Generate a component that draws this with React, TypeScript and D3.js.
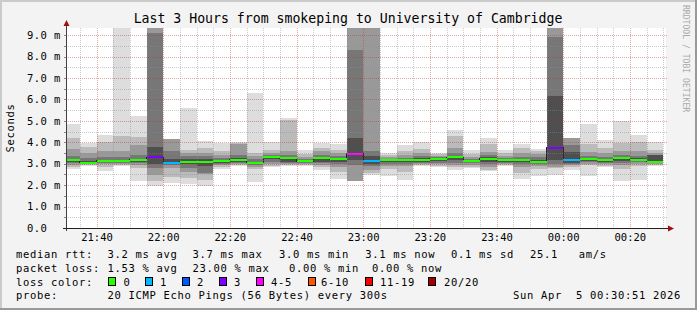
import React, { useEffect } from 'react';
import * as d3 from 'd3';

// ---------- data (ms) ----------
// one bar per 5-minute step, bar i covers minutes [5i, 5i+5] after 21:30
const medianMs = [3.18, 3.04, 3.14, 3.12, 3.18, 3.31, 3.04, 3.09, 3.09, 3.14, 3.18, 3.04,
  3.32, 3.26, 3.12, 3.26, 3.21, 3.46, 3.12, 3.15, 3.15, 3.18, 3.22, 3.30,
  3.12, 3.22, 3.15, 3.17, 3.10, 3.74, 3.19, 3.22, 3.18, 3.26, 3.18, 3.09];
const lossPings = [0, 0, 0, 0, 0, 3, 1, 0, 0, 0, 0, 0,
  0, 0, 0, 0, 0, 5, 1, 0, 0, 0, 0, 0,
  0, 0, 0, 0, 0, 3, 1, 0, 0, 0, 0, 0];
// smoke layers: outermost (light) to innermost (dark)
const l1Lo = [2.75, 2.90, 2.67, 2.90, 2.20, 1.97, 2.10, 2.05, 1.95, 2.75, 2.90, 2.16,
  2.83, 2.90, 2.90, 2.72, 2.29, 2.17, 2.47, 2.44, 2.25, 2.90, 2.83, 2.72,
  2.78, 2.64, 2.87, 2.29, 2.44, 2.49, 2.72, 2.44, 2.83, 2.20, 2.25, 2.90];
const l1Hi = [4.84, 3.97, 4.36, 9.33, 5.23, 9.33, 4.15, 5.60, 4.07, 3.96, 4.02, 6.32,
  4.03, 5.14, 3.66, 3.96, 3.90, 9.33, 9.33, 3.52, 3.87, 4.02, 3.52, 4.56,
  3.63, 4.19, 3.63, 3.91, 3.70, 9.33, 4.22, 4.84, 4.10, 5.00, 4.33, 4.02];
const l2Lo = [2.85, 2.95, 2.85, 2.95, 2.80, 2.20, 2.40, 2.35, 2.25, 2.85, 2.95, 2.75,
  2.90, 2.95, 2.95, 2.85, 2.60, 2.20, 2.55, 2.75, 2.60, 2.95, 2.90, 2.85,
  2.85, 2.70, 2.92, 2.55, 2.75, 2.80, 2.85, 2.95, 2.90, 2.75, 2.90, 2.95];
const l2Hi = [4.20, 3.80, 4.00, 4.27, 4.25, 9.33, 4.15, 3.65, 3.75, 3.60, 3.95, 3.50,
  3.65, 5.05, 3.45, 3.75, 3.65, 9.33, 9.33, 3.40, 3.60, 3.70, 3.45, 4.30,
  3.45, 3.90, 3.50, 3.75, 3.60, 9.33, 4.22, 3.90, 3.75, 3.95, 4.00, 3.65];
const l3Lo = [2.95, 2.98, 2.98, 3.00, 2.95, 2.45, 2.80, 2.60, 2.50, 2.95, 3.00, 2.85,
  3.00, 3.00, 3.00, 2.95, 2.85, 2.20, 2.70, 2.90, 2.90, 3.00, 3.00, 2.95,
  2.95, 2.85, 2.98, 2.85, 2.90, 2.85, 2.92, 3.00, 2.98, 2.95, 3.00, 2.98];
const l3Hi = [3.70, 3.50, 3.60, 3.60, 3.85, 9.33, 4.15, 3.50, 3.50, 3.40, 3.90, 3.35,
  3.50, 3.60, 3.30, 3.60, 3.50, 9.33, 9.33, 3.30, 3.40, 3.50, 3.38, 3.75,
  3.30, 3.55, 3.35, 3.50, 3.45, 9.33, 4.22, 3.55, 3.50, 3.60, 3.60, 3.50];
const l4Lo = [3.05, 3.00, 3.05, 3.05, 3.05, 2.80, 2.95, 2.80, 2.55, 3.00, 3.05, 2.95,
  3.10, 3.05, 3.05, 3.05, 3.00, 2.95, 2.90, 3.00, 3.00, 3.05, 3.05, 3.05,
  3.02, 3.00, 3.05, 3.00, 3.00, 3.00, 2.98, 3.08, 3.05, 3.05, 3.07, 3.02];
const l4Hi = [3.35, 3.25, 3.30, 3.30, 3.40, 9.10, 3.60, 3.35, 3.35, 3.25, 3.40, 3.20,
  3.40, 3.40, 3.20, 3.40, 3.35, 8.30, 3.60, 3.20, 3.25, 3.35, 3.30, 3.50,
  3.20, 3.40, 3.25, 3.30, 3.30, 8.90, 3.85, 3.35, 3.30, 3.40, 3.35, 3.35];
const l5Lo = [3.10, 3.02, 3.08, 3.08, 3.10, 3.00, 3.00, 3.00, 2.90, 3.05, 3.10, 3.00,
  3.20, 3.10, 3.08, 3.10, 3.10, 3.15, 3.00, 3.08, 3.08, 3.10, 3.12, 3.15,
  3.07, 3.10, 3.10, 3.08, 3.05, 3.15, 3.05, 3.12, 3.10, 3.12, 3.12, 3.05];
const l5Hi = [3.22, 3.12, 3.18, 3.18, 3.22, 3.80, 3.20, 3.20, 3.20, 3.18, 3.25, 3.10,
  3.30, 3.30, 3.15, 3.30, 3.25, 4.20, 3.35, 3.17, 3.18, 3.25, 3.25, 3.35,
  3.15, 3.30, 3.18, 3.20, 3.18, 6.14, 3.55, 3.28, 3.22, 3.30, 3.25, 3.40];

const smokeGrays = ['#dddddd', '#bbbbbb', '#999999', '#777777', '#4f4f4f'];
const lossLabels = ['0', '1', '2', '3', '4-5', '6-10', '11-19', '20/20'];
const lossColors = ['#26ff00', '#00b8ff', '#0059ff', '#7e00ff', '#ff00ff', '#ff5500', '#ff0000', '#a00000'];
const xTickLabels = ['21:40', '22:00', '22:20', '22:40', '23:00', '23:20', '23:40', '00:00', '00:20'];
const yTickValues = [0, 1, 2, 3, 4, 5, 6, 7, 8, 9];
const title = 'Last 3 Hours from smokeping to University of Cambridge';
const rttStats = ['3.2 ms avg', '3.7 ms max', '3.0 ms min', '3.1 ms now', '0.1 ms sd', '25.1', 'am/s'];
const lossStats = ['1.53 % avg', '23.00 % max', '0.00 % min', '0.00 % now'];
const probeText = '20 ICMP Echo Pings (56 Bytes) every 300s';
const stampText = 'Sun Apr  5 00:30:51 2026';

// ---------- layout ----------
const W = 697, H = 310;
const PL = 66, PR = 666, PT = 28, PB = 228;
const T0 = 0.85, T1 = 180.85; // minutes after 21:30
const STEP = 5;
const YMAX = 9.33;

const mono = 'DejaVu Sans Mono, monospace';
const rttX = [107.6, 192.4, 279, 365.3, 451, 530, 578.7];
const lossX = [107.6, 192.4, 289, 372];
const boxX = [108, 145.3, 182, 219, 256.4, 307.6, 365.3, 428];
const legX = [123.6, 160, 197, 234, 271, 321, 380, 444];

function lossIdx(l: number) {
  if (l <= 0) return 0;
  if (l <= 1) return 1;
  if (l <= 2) return 2;
  if (l <= 3) return 3;
  if (l <= 5) return 4;
  if (l <= 10) return 5;
  if (l <= 19) return 6;
  return 7;
}

export default function App() {
  useEffect(() => {
    document.body.style.margin = '0';
  }, []);

  const x = d3.scaleLinear().domain([T0, T1]).range([PL, PR]);
  const y = d3.scaleLinear().domain([0, YMAX]).range([PB, PT]);

  const layers = [
    [l1Lo, l1Hi], [l2Lo, l2Hi], [l3Lo, l3Hi], [l4Lo, l4Hi], [l5Lo, l5Hi],
  ];

  const bars = medianMs.map((m, i) => ({
    x0: Math.max(x(i * STEP), PL),
    x1: x((i + 1) * STEP),
    m,
    loss: lossPings[i],
  }));

  const stepPts: [number, number][] = bars.map(b => [b.x0, y(b.m)] as [number, number]);
  stepPts.push([bars[bars.length - 1].x1, y(bars[bars.length - 1].m)]);
  const stepLine = d3.line().curve(d3.curveStepAfter)(stepPts) || '';

  const minorY = d3.range(0.5, YMAX, 0.5).filter(v => Math.abs(v - Math.round(v)) > 0.01);
  const majorY = d3.range(1, YMAX, 1);
  const minorT = d3.range(5, T1, 5).filter(t => (t - 10) % 20 !== 0);
  const majorT = xTickLabels.map((_, i) => 10 + i * 20);

  const minorCol = 'rgba(140,140,140,0.45)';
  const majorCol = 'rgba(200,40,40,0.42)';

  const legendStyle = { fontFamily: mono, fontSize: 10.5, letterSpacing: 0.68, fill: '#000' } as any;

  return (
    <svg width={W} height={H} style={{ display: 'block', position: 'absolute', left: 0, top: 0 }}>
      <defs>
        <clipPath id="plot">
          <rect x={PL} y={PT} width={PR - PL} height={PB - PT} />
        </clipPath>
      </defs>
      <rect x={0} y={0} width={W} height={H} fill="#f3f3f3" />
      {/* frame */}
      <rect x={0} y={0} width={W} height={2} fill="#cbcbcb" />
      <rect x={0} y={0} width={2} height={H} fill="#cbcbcb" />
      <rect x={0} y={H - 2} width={W} height={2} fill="#999999" />
      <rect x={W - 2} y={0} width={2} height={H} fill="#999999" />

      <rect x={PL} y={PT} width={PR - PL} height={PB - PT} fill="#ffffff" />

      <g clipPath="url(#plot)" shapeRendering="crispEdges">
        {layers.map(([lo, hi], k) => (
          <g key={k} fill={smokeGrays[k]}>
            {bars.map((b, i) => (
              <rect key={i} x={b.x0} width={b.x1 - b.x0}
                y={y(hi[i])} height={y(lo[i]) - y(hi[i])} />
            ))}
          </g>
        ))}
        <path d={stepLine} fill="none" stroke="#202020" strokeWidth={1} />
        {bars.map((b, i) => (
          <rect key={'m' + i} x={b.x0} width={b.x1 - b.x0} y={y(b.m) - 1} height={2}
            fill={lossColors[lossIdx(b.loss)]} />
        ))}
      </g>

      {/* grid */}
      <g shapeRendering="crispEdges" strokeWidth={1}>
        {minorY.map(v => (
          <line key={'my' + v} x1={PL - 2} x2={PR + 2} y1={Math.round(y(v)) + 0.5} y2={Math.round(y(v)) + 0.5}
            stroke={minorCol} strokeDasharray="1,1" />
        ))}
        {majorY.map(v => (
          <line key={'My' + v} x1={PL - 2} x2={PR + 2} y1={Math.round(y(v)) + 0.5} y2={Math.round(y(v)) + 0.5}
            stroke={majorCol} strokeDasharray="1,1" />
        ))}
        {minorT.map(t => (
          <line key={'mt' + t} y1={PT} y2={PB + 2} x1={Math.round(x(t)) + 0.5} x2={Math.round(x(t)) + 0.5}
            stroke={minorCol} strokeDasharray="1,1" />
        ))}
        {majorT.map(t => (
          <line key={'Mt' + t} y1={PT} y2={PB + 2} x1={Math.round(x(t)) + 0.5} x2={Math.round(x(t)) + 0.5}
            stroke={majorCol} strokeDasharray="1,1" />
        ))}
        {[...minorY, ...majorY].map(v => (
          <line key={'ty' + v} x1={PL - 2} x2={PL} y1={Math.round(y(v)) + 0.5} y2={Math.round(y(v)) + 0.5}
            stroke="#888" />
        ))}
      </g>

      {/* axes */}
      <g shapeRendering="crispEdges">
        <line x1={PL + 0.5} x2={PL + 0.5} y1={PB + 3} y2={PT - 4} stroke="#404040" />
        <line x1={PL - 3} x2={PR + 3} y1={PB + 0.5} y2={PB + 0.5} stroke="#202020" />
      </g>
      <path d={`M${PL + 0.5},${PT - 8} L${PL - 2.5},${PT - 2} L${PL + 3.5},${PT - 2} Z`} fill="#a01010" />
      <path d={`M${PR + 8},${PB + 0.5} L${PR + 2},${PB - 2.5} L${PR + 2},${PB + 3.5} Z`} fill="#a01010" />

      {/* y labels */}
      <g style={{ fontFamily: mono, fontSize: 10.5, letterSpacing: 0.4 }} fill="#000">
        {yTickValues.map(v => (
          <text key={v} x={27} y={y(v) + 3.8}>{v === 0 ? '0.0' : `${v.toFixed(1)} m`}</text>
        ))}
      </g>
      {/* x labels */}
      <g style={{ fontFamily: mono, fontSize: 10.5 }} fill="#000" textAnchor="middle">
        {xTickLabels.map((lab, i) => (
          <text key={lab} x={x(majorT[i]) + 0.5} y={241}>{lab}</text>
        ))}
      </g>

      {/* title */}
      <text x={348} y={23} textAnchor="middle" style={{ fontFamily: mono, fontSize: 13.2 }} fill="#000">{title}</text>
      {/* y axis title */}
      <text transform="translate(14,128) rotate(-90)" textAnchor="middle" style={legendStyle}>Seconds</text>
      {/* watermark */}
      <text transform="translate(683,5) rotate(90)" style={{ fontFamily: mono, fontSize: 8.1 }} fill="#aaaaaa">RRDTOOL / TOBI OETIKER</text>

      {/* legend */}
      <g style={legendStyle}>
        <text x={16} y={258.3} style={{ whiteSpace: 'pre' }}>median rtt:</text>
        {rttStats.map((s, i) => <text key={'r' + i} x={rttX[i]} y={258.3}>{s}</text>)}
        <text x={16} y={272}>packet loss:</text>
        {lossStats.map((s, i) => <text key={'l' + i} x={lossX[i]} y={272}>{s}</text>)}
        <text x={16} y={285.6}>loss color:</text>
        {lossLabels.map((s, i) => <text key={'c' + i} x={legX[i]} y={285.6}>{s}</text>)}
        <text x={16} y={299.3}>probe:</text>
        <text x={107.6} y={299.3}>{probeText}</text>
        <text x={681} y={299.3} textAnchor="end" style={{ whiteSpace: 'pre' }}>{stampText}</text>
      </g>
      <g shapeRendering="crispEdges">
        {lossColors.map((c, i) => (
          <rect key={'b' + i} x={Math.round(boxX[i]) + 0.5} y={277.5} width={7} height={8} fill={c} stroke="#000" strokeWidth={1} />
        ))}
      </g>
    </svg>
  );
}
